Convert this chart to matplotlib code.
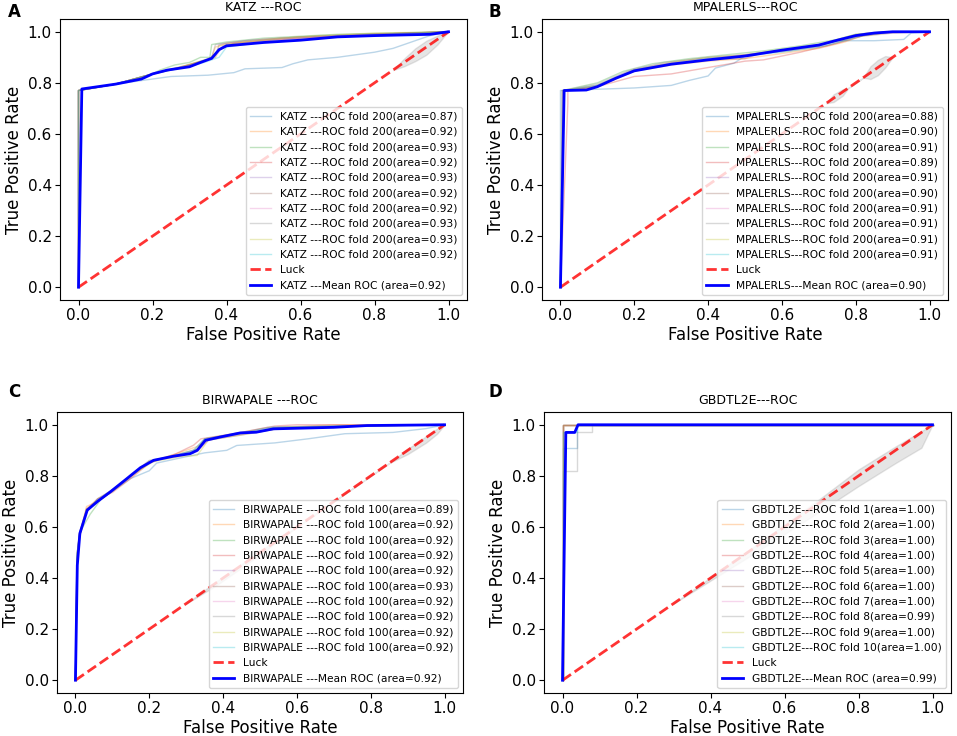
import numpy as np
import matplotlib
matplotlib.use('Agg')
import matplotlib.pyplot as plt

# ---- data ----
# KATZ (panel A)
katz_fpr = [
    [0, 0, 0.1, 0.2, 0.25, 0.35, 0.42, 0.45, 0.55, 0.58, 0.62, 0.7, 0.8, 0.85, 0.9, 0.95, 1.0],
    [0, 0, 0.1, 0.2, 0.28, 0.33, 0.36, 0.37, 0.4, 0.5, 0.6, 0.7, 0.8, 1.0],
    [0, 0, 0.1, 0.2, 0.22, 0.26, 0.3, 0.33, 0.355, 0.36, 0.4, 0.5, 0.7, 1.0],
    [0, 0, 0.1, 0.2, 0.27, 0.32, 0.36, 0.38, 0.42, 0.5, 0.65, 0.8, 1.0],
    [0, 0, 0.1, 0.2, 0.3, 0.35, 0.37, 0.38, 0.45, 0.55, 0.7, 1.0],
    [0, 0, 0.1, 0.2, 0.26, 0.31, 0.35, 0.38, 0.4, 0.5, 0.6, 0.75, 1.0],
    [0, 0, 0.1, 0.2, 0.29, 0.34, 0.37, 0.39, 0.5, 0.6, 0.8, 1.0],
    [0, 0, 0.1, 0.2, 0.25, 0.3, 0.34, 0.36, 0.37, 0.45, 0.6, 0.75, 1.0],
    [0, 0, 0.1, 0.2, 0.28, 0.33, 0.37, 0.38, 0.45, 0.55, 0.65, 0.8, 1.0],
    [0, 0, 0.1, 0.2, 0.3, 0.34, 0.38, 0.4, 0.5, 0.6, 0.75, 1.0],
]
katz_tpr = [
    [0, 0.77, 0.795, 0.815, 0.825, 0.83, 0.84, 0.855, 0.86, 0.875, 0.89, 0.9, 0.92, 0.935, 0.96, 0.985, 1.0],
    [0, 0.77, 0.795, 0.835, 0.86, 0.88, 0.9, 0.94, 0.955, 0.97, 0.98, 0.985, 0.99, 1.0],
    [0, 0.77, 0.795, 0.835, 0.85, 0.87, 0.88, 0.9, 0.9, 0.95, 0.96, 0.975, 0.99, 1.0],
    [0, 0.77, 0.795, 0.835, 0.86, 0.88, 0.895, 0.93, 0.955, 0.965, 0.98, 0.99, 1.0],
    [0, 0.77, 0.795, 0.835, 0.87, 0.89, 0.91, 0.95, 0.965, 0.975, 0.985, 1.0],
    [0, 0.77, 0.795, 0.835, 0.855, 0.875, 0.89, 0.93, 0.95, 0.965, 0.975, 0.985, 1.0],
    [0, 0.77, 0.795, 0.835, 0.865, 0.885, 0.9, 0.945, 0.965, 0.975, 0.99, 1.0],
    [0, 0.77, 0.795, 0.835, 0.85, 0.87, 0.89, 0.9, 0.95, 0.965, 0.98, 0.99, 1.0],
    [0, 0.77, 0.795, 0.835, 0.865, 0.885, 0.9, 0.945, 0.96, 0.975, 0.985, 0.995, 1.0],
    [0, 0.77, 0.795, 0.835, 0.865, 0.88, 0.9, 0.94, 0.96, 0.97, 0.985, 1.0],
]
katz_mean_fpr = [0, 0.009, 0.1, 0.17, 0.2, 0.24, 0.3, 0.33, 0.36, 0.38, 0.4, 0.5, 0.6, 0.7, 0.8, 0.95, 1.0]
katz_mean_tpr = [0, 0.776, 0.795, 0.815, 0.835, 0.85, 0.863, 0.88, 0.896, 0.93, 0.945, 0.958, 0.967, 0.98, 0.985, 0.99, 1.0]
katz_auc = [0.87, 0.92, 0.93, 0.92, 0.93, 0.92, 0.92, 0.93, 0.93, 0.92]
katz_mean_auc = 0.92
katz_band_x = [0.85, 0.88, 0.91, 0.94, 0.97, 0.99, 1.0]
katz_band_lo = [0.85, 0.865, 0.885, 0.91, 0.95, 0.985, 1.0]
katz_band_hi = [0.85, 0.895, 0.935, 0.965, 0.985, 0.995, 1.0]

# MPALERLS (panel B)
mpa_fpr = [
    [0, 0, 0.1, 0.2, 0.3, 0.35, 0.4, 0.42, 0.47, 0.5, 0.6, 0.7, 0.75, 0.85, 0.93, 0.95, 1.0],
    [0, 0.01, 0.1, 0.2, 0.3, 0.4, 0.5, 0.6, 0.7, 0.77, 0.82, 0.9, 1.0],
    [0, 0.005, 0.1, 0.17, 0.25, 0.35, 0.45, 0.55, 0.65, 0.75, 0.8, 0.88, 1.0],
    [0, 0.02, 0.02, 0.1, 0.2, 0.3, 0.4, 0.5, 0.55, 0.65, 0.75, 0.82, 0.9, 1.0],
    [0, 0.01, 0.1, 0.2, 0.3, 0.4, 0.5, 0.6, 0.7, 0.76, 0.81, 0.9, 1.0],
    [0, 0.01, 0.1, 0.2, 0.3, 0.4, 0.5, 0.54, 0.62, 0.72, 0.8, 0.9, 1.0],
    [0, 0.005, 0.1, 0.2, 0.3, 0.4, 0.5, 0.6, 0.7, 0.77, 0.83, 1.0],
    [0, 0.005, 0.1, 0.18, 0.28, 0.38, 0.48, 0.58, 0.68, 0.76, 0.82, 0.9, 1.0],
    [0, 0.01, 0.1, 0.2, 0.3, 0.4, 0.5, 0.6, 0.7, 0.75, 0.8, 0.88, 1.0],
    [0, 0.01, 0.1, 0.2, 0.3, 0.4, 0.5, 0.6, 0.7, 0.77, 0.82, 0.9, 1.0],
]
mpa_tpr = [
    [0, 0.77, 0.775, 0.78, 0.79, 0.81, 0.827, 0.858, 0.877, 0.905, 0.925, 0.945, 0.965, 0.965, 0.97, 0.995, 1.0],
    [0, 0.77, 0.785, 0.845, 0.87, 0.885, 0.895, 0.915, 0.935, 0.96, 0.985, 1.0, 1.0],
    [0, 0.77, 0.8, 0.845, 0.875, 0.895, 0.91, 0.925, 0.945, 0.97, 0.99, 1.0, 1.0],
    [0, 0.72, 0.77, 0.785, 0.825, 0.835, 0.86, 0.885, 0.89, 0.92, 0.955, 0.985, 1.0, 1.0],
    [0, 0.77, 0.79, 0.855, 0.88, 0.9, 0.91, 0.925, 0.945, 0.97, 0.99, 1.0, 1.0],
    [0, 0.77, 0.785, 0.85, 0.875, 0.89, 0.895, 0.915, 0.925, 0.945, 0.98, 0.995, 1.0],
    [0, 0.77, 0.79, 0.85, 0.878, 0.895, 0.91, 0.925, 0.945, 0.975, 0.995, 1.0],
    [0, 0.77, 0.795, 0.845, 0.88, 0.895, 0.905, 0.925, 0.945, 0.965, 0.99, 1.0, 1.0],
    [0, 0.77, 0.79, 0.85, 0.88, 0.9, 0.91, 0.93, 0.95, 0.97, 0.99, 1.0, 1.0],
    [0, 0.77, 0.79, 0.85, 0.875, 0.895, 0.905, 0.92, 0.94, 0.965, 0.985, 1.0, 1.0],
]
mpa_mean_fpr = [0, 0.01, 0.07, 0.1, 0.15, 0.2, 0.3, 0.4, 0.5, 0.6, 0.7, 0.75, 0.8, 0.85, 0.9, 1.0]
mpa_mean_tpr = [0, 0.77, 0.772, 0.785, 0.818, 0.847, 0.873, 0.89, 0.905, 0.928, 0.948, 0.967, 0.985, 0.995, 1.0, 1.0]
mpa_auc = [0.88, 0.90, 0.91, 0.89, 0.91, 0.90, 0.91, 0.91, 0.91, 0.91]
mpa_mean_auc = 0.90
mpa_band_x = [0.72, 0.74, 0.765, 0.78, 0.82, 0.84, 0.86, 0.88, 0.9]
mpa_band_lo = [0.72, 0.725, 0.75, 0.78, 0.82, 0.815, 0.83, 0.86, 0.9]
mpa_band_hi = [0.72, 0.755, 0.775, 0.78, 0.82, 0.865, 0.89, 0.905, 0.9]

# BIRWAPALE (panel C)
birw_fpr = [
    [0, 0.005, 0.012, 0.03, 0.06, 0.1, 0.15, 0.2, 0.22, 0.3, 0.35, 0.41, 0.437, 0.54, 0.63, 0.73, 0.86, 0.95, 1.0],
    [0, 0.004, 0.01, 0.03, 0.06, 0.1, 0.15, 0.2, 0.27, 0.33, 0.36, 0.42, 0.5, 0.55, 0.7, 1.0],
    [0, 0.005, 0.012, 0.04, 0.07, 0.1, 0.15, 0.2, 0.28, 0.32, 0.35, 0.45, 0.55, 0.75, 1.0],
    [0, 0.004, 0.01, 0.03, 0.06, 0.1, 0.15, 0.2, 0.27, 0.32, 0.34, 0.45, 0.54, 0.6, 1.0],
    [0, 0.005, 0.012, 0.03, 0.06, 0.1, 0.16, 0.21, 0.28, 0.33, 0.36, 0.45, 0.55, 0.7, 1.0],
    [0, 0.004, 0.01, 0.03, 0.06, 0.1, 0.15, 0.2, 0.27, 0.33, 0.35, 0.43, 0.52, 0.75, 1.0],
    [0, 0.005, 0.012, 0.03, 0.06, 0.1, 0.15, 0.2, 0.28, 0.33, 0.36, 0.46, 0.55, 0.8, 1.0],
    [0, 0.004, 0.011, 0.03, 0.06, 0.1, 0.15, 0.2, 0.27, 0.32, 0.35, 0.44, 0.54, 0.7, 1.0],
    [0, 0.005, 0.012, 0.03, 0.06, 0.1, 0.15, 0.21, 0.28, 0.33, 0.36, 0.45, 0.55, 0.75, 1.0],
    [0, 0.004, 0.01, 0.03, 0.06, 0.1, 0.15, 0.2, 0.27, 0.32, 0.35, 0.44, 0.53, 0.7, 1.0],
]
birw_tpr = [
    [0, 0.5, 0.57, 0.66, 0.7, 0.74, 0.79, 0.82, 0.85, 0.875, 0.89, 0.9, 0.919, 0.929, 0.945, 0.965, 0.97, 0.985, 1.0],
    [0, 0.45, 0.56, 0.68, 0.7, 0.74, 0.795, 0.855, 0.885, 0.915, 0.945, 0.96, 0.975, 0.99, 1.0, 1.0],
    [0, 0.5, 0.58, 0.65, 0.71, 0.745, 0.8, 0.86, 0.88, 0.89, 0.94, 0.965, 0.985, 0.995, 1.0],
    [0, 0.45, 0.55, 0.67, 0.71, 0.735, 0.79, 0.85, 0.885, 0.92, 0.945, 0.97, 0.995, 1.0, 1.0],
    [0, 0.5, 0.58, 0.67, 0.7, 0.74, 0.81, 0.86, 0.88, 0.9, 0.94, 0.96, 0.985, 0.995, 1.0],
    [0, 0.48, 0.57, 0.66, 0.71, 0.745, 0.8, 0.855, 0.88, 0.905, 0.945, 0.965, 0.99, 0.995, 1.0],
    [0, 0.5, 0.58, 0.67, 0.7, 0.74, 0.805, 0.86, 0.875, 0.895, 0.94, 0.965, 0.985, 0.995, 1.0],
    [0, 0.47, 0.57, 0.66, 0.71, 0.745, 0.8, 0.855, 0.88, 0.9, 0.945, 0.965, 0.99, 0.995, 1.0],
    [0, 0.5, 0.58, 0.67, 0.7, 0.74, 0.8, 0.855, 0.875, 0.88, 0.94, 0.96, 0.985, 0.995, 1.0],
    [0, 0.48, 0.56, 0.665, 0.705, 0.74, 0.8, 0.855, 0.88, 0.9, 0.945, 0.965, 0.99, 0.995, 1.0],
]
birw_mean_fpr = [0, 0.005, 0.012, 0.032, 0.06, 0.095, 0.14, 0.176, 0.212, 0.266, 0.311, 0.33, 0.352,
                 0.392, 0.446, 0.49, 0.536, 0.7, 0.79, 1.0]
birw_mean_tpr = [0, 0.45, 0.575, 0.666, 0.7, 0.738, 0.79, 0.832, 0.861, 0.877, 0.887, 0.9, 0.939,
                 0.952, 0.968, 0.971, 0.984, 0.99, 0.997, 1.0]
birw_auc = [0.89, 0.92, 0.92, 0.92, 0.92, 0.93, 0.92, 0.92, 0.92, 0.92]
birw_mean_auc = 0.92
birw_band_x = [0.3, 0.38, 0.46, 0.55, 0.6, 0.85, 0.9, 0.95, 0.98, 1.0]
birw_band_lo = [0.3, 0.37, 0.45, 0.545, 0.6, 0.85, 0.885, 0.93, 0.965, 1.0]
birw_band_hi = [0.3, 0.385, 0.465, 0.555, 0.6, 0.85, 0.905, 0.955, 0.985, 1.0]

# GBDTL2E (panel D)
gbdt_fpr = [
    [0, 0, 0.04, 0.04, 1.0],
    [0, 0, 1.0],
    [0, 0, 1.0],
    [0, 0, 1.0],
    [0, 0, 1.0],
    [0, 0, 1.0],
    [0, 0, 1.0],
    [0, 0, 0.04, 0.04, 0.08, 0.08, 1.0],
    [0, 0, 1.0],
    [0, 0, 0.04, 0.04, 1.0],
]
gbdt_tpr = [
    [0, 0.91, 0.91, 1.0, 1.0],
    [0, 1.0, 1.0],
    [0, 1.0, 1.0],
    [0, 1.0, 1.0],
    [0, 1.0, 1.0],
    [0, 1.0, 1.0],
    [0, 1.0, 1.0],
    [0, 0.82, 0.82, 0.97, 0.97, 1.0, 1.0],
    [0, 1.0, 1.0],
    [0, 0.97, 0.97, 1.0, 1.0],
]
gbdt_mean_fpr = [0, 0.009, 0.033, 0.042, 1.0]
gbdt_mean_tpr = [0, 0.97, 0.97, 1.0, 1.0]
gbdt_auc = [1.00, 1.00, 1.00, 1.00, 1.00, 1.00, 1.00, 0.99, 1.00, 1.00]
gbdt_mean_auc = 0.99
gbdt_band_x = [0.3, 0.5, 0.7, 0.8, 0.9, 0.97, 1.0]
gbdt_band_lo = [0.3, 0.48, 0.665, 0.76, 0.85, 0.91, 1.0]
gbdt_band_hi = [0.3, 0.505, 0.715, 0.825, 0.915, 0.975, 1.0]

panels = [
    ('A', 'KATZ ---ROC', 'KATZ ---', ' fold 200', False, katz_fpr, katz_tpr, katz_auc,
     katz_mean_fpr, katz_mean_tpr, katz_mean_auc, katz_band_x, katz_band_lo, katz_band_hi),
    ('B', 'MPALERLS---ROC', 'MPALERLS---', ' fold 200', False, mpa_fpr, mpa_tpr, mpa_auc,
     mpa_mean_fpr, mpa_mean_tpr, mpa_mean_auc, mpa_band_x, mpa_band_lo, mpa_band_hi),
    ('C', 'BIRWAPALE ---ROC', 'BIRWAPALE ---', ' fold 100', False, birw_fpr, birw_tpr, birw_auc,
     birw_mean_fpr, birw_mean_tpr, birw_mean_auc, birw_band_x, birw_band_lo, birw_band_hi),
    ('D', 'GBDTL2E---ROC', 'GBDTL2E---', ' fold ', True, gbdt_fpr, gbdt_tpr, gbdt_auc,
     gbdt_mean_fpr, gbdt_mean_tpr, gbdt_mean_auc, gbdt_band_x, gbdt_band_lo, gbdt_band_hi),
]

W, H = 957, 736
fig = plt.figure(figsize=(W / 100, H / 100), dpi=100)

# axes boxes in pixels: left, top, right, bottom
boxes = [(60, 19, 467, 300), (542, 19, 948, 300), (57, 412, 463, 693), (544, 412, 951, 693)]
label_pos = [(8, 3), (488, 3), (8, 383), (489, 383)]

for (lab, title, name, foldtxt, numbered, fprs, tprs, aucs, mfpr, mtpr, mauc, bx, blo, bhi), \
        (l, t, r, b), (lx, ly) in zip(panels, boxes, label_pos):
    ax = fig.add_axes([l / W, 1 - b / H, (r - l) / W, (b - t) / H])
    for i in range(len(fprs)):
        if numbered:
            lbl = '%sROC fold %d(area=%.2f)' % (name, i + 1, aucs[i])
        else:
            lbl = '%sROC%s(area=%.2f)' % (name, foldtxt, aucs[i])
        ax.plot(fprs[i], tprs[i], lw=1, alpha=0.3, label=lbl)
    ax.fill_between(bx, blo, bhi, color='grey', alpha=0.2)
    ax.plot([0, 1], [0, 1], linestyle='--', lw=2, color='r', label='Luck', alpha=0.8)
    ax.plot(mfpr, mtpr, color='b', lw=2, label='%sMean ROC (area=%.2f)' % (name, mauc))
    ax.set_xlim(-0.05, 1.05)
    ax.set_ylim(-0.05, 1.05)
    ax.set_xlabel('False Positive Rate', fontsize=12, labelpad=2)
    ax.set_ylabel('True Positive Rate', fontsize=12, labelpad=3)
    ax.set_title(title, fontsize=9)
    ax.tick_params(labelsize=11, pad=2.5)
    ax.legend(loc='lower right', fontsize=7.7)
    fig.text(lx / W, 1 - ly / H, lab, fontsize=12, fontweight='bold', va='top', ha='left')

fig.savefig('out.png', dpi=100)
